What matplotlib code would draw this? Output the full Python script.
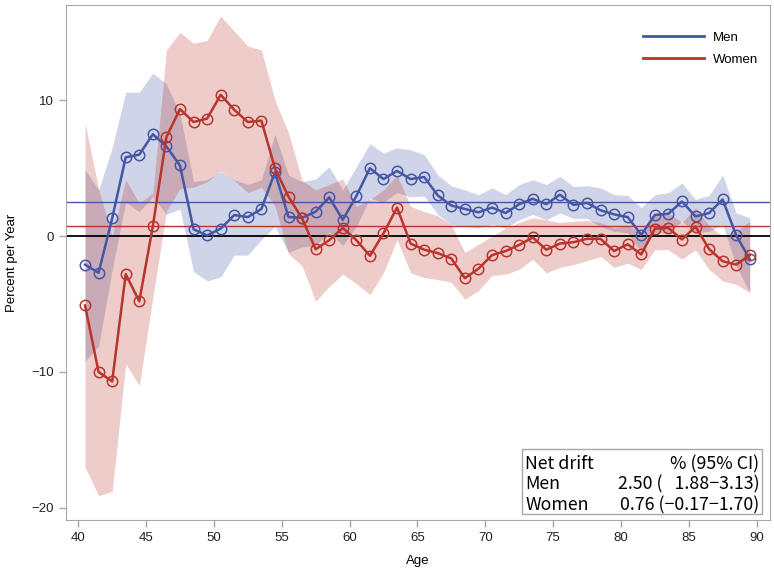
import numpy as np
import matplotlib
matplotlib.use("Agg")
import matplotlib.pyplot as plt
from matplotlib.lines import Line2D
from matplotlib.patches import Rectangle

# age groups (mid points)
ages = np.arange(40.5, 90.0, 1.0)

men = [-2.1, -2.7, 1.3, 5.8, 6.0, 7.5, 6.6, 5.2, 0.5, 0.05,
       0.55, 1.55, 1.4, 2.0, 4.7, 1.4, 1.35, 1.8, 2.85, 1.2,
       2.95, 5.0, 4.2, 4.8, 4.2, 4.35, 3.0, 2.25, 2.0, 1.75,
       2.1, 1.7, 2.35, 2.75, 2.35, 3.05, 2.3, 2.45, 1.9, 1.6,
       1.4, 0.1, 1.55, 1.65, 2.55, 1.45, 1.7, 2.7, 0.05, -1.7]
men_hi = [4.9, 3.4, 6.5, 10.6, 10.6, 12.0, 11.2, 9.0, 4.0, 4.15,
          4.75, 4.15, 3.8, 4.15, 7.5, 4.5, 4.0, 4.2, 5.1, 3.4,
          5.1, 6.8, 6.1, 6.5, 6.35, 6.0, 4.5, 3.7, 3.4, 3.05,
          3.55, 3.05, 3.8, 4.15, 3.8, 4.4, 3.65, 3.7, 3.55, 3.05,
          3.0, 2.1, 3.05, 3.2, 3.9, 2.7, 3.0, 4.5, 1.7, 1.35]
men_lo = [-9.2, -8.1, -2.5, 2.5, 1.8, 2.9, 1.6, 2.0, -2.6, -3.3,
          -3.0, -1.4, -1.4, -0.25, 0.7, -1.2, -0.8, -0.7, 0.3, -0.7,
          0.7, 2.8, 2.5, 3.2, 2.9, 2.95, 1.6, 0.85, 0.7, 0.6,
          0.85, 0.6, 1.2, 1.6, 1.2, 1.7, 1.3, 1.3, 0.7, 0.35,
          0.25, -1.2, 0.25, 0.25, 1.1, 0.25, 0.35, 0.85, -2.2, -4.15]

women = [-5.1, -10.0, -10.7, -2.8, -4.8, 0.73, 7.3, 9.35, 8.4, 8.65,
         10.4, 9.3, 8.4, 8.5, 5.0, 2.9, 1.3, -0.97, -0.3, 0.6,
         -0.3, -1.45, 0.2, 2.1, -0.55, -1.0, -1.25, -1.65, -3.1, -2.4,
         -1.4, -1.1, -0.65, -0.1, -1.0, -0.55, -0.45, -0.2, -0.2, -1.1,
         -0.6, -1.35, 0.55, 0.6, -0.25, 0.7, -0.95, -1.85, -2.1, -1.4]
women_hi = [8.3, 3.5, 0.0, 4.15, 2.4, 3.2, 13.7, 15.0, 14.2, 14.4,
            16.2, 15.1, 14.0, 13.7, 10.0, 7.6, 4.1, 3.4, 3.8, 4.2,
            2.2, 2.7, 3.4, 4.5, 2.2, 1.8, 1.5, 0.85, -1.2, -0.6,
            0.0, 0.6, 1.0, 1.35, 1.2, 1.0, 1.1, 1.15, 1.0, 0.6,
            0.75, 0.25, 1.7, 1.7, 1.0, 2.1, 0.75, 0.0, 0.35, 1.1]
women_lo = [-17.0, -19.1, -18.8, -9.4, -11.0, -4.5, 1.8, 3.5, 3.6, 4.0,
            4.8, 4.1, 3.2, 3.6, 2.2, -1.3, -2.2, -4.8, -3.7, -2.8,
            -3.5, -4.3, -2.7, -0.25, -2.7, -3.05, -3.2, -3.4, -4.65, -4.0,
            -2.9, -2.8, -2.45, -1.7, -2.7, -2.3, -2.1, -1.8, -1.5, -2.3,
            -2.0, -2.45, -1.0, -1.0, -1.7, -1.0, -2.45, -3.3, -3.55, -4.15]

net_drift = {"Men": 2.50, "Women": 0.76}
table_rows = [("Net drift", "% (95% CI)"),
              ("Men", "2.50 (   1.88\u22123.13)"),
              ("Women", "0.76 (\u22120.17\u22121.70)")]

blue = "#4456a4"
red = "#b8342c"

fig = plt.figure(figsize=(7.74, 5.76), dpi=100)
ax = fig.add_axes([0.0853, 0.0972, 0.9097, 0.8938])

ax.fill_between(ages, men_lo, men_hi, color=blue, alpha=0.25, linewidth=0)
ax.fill_between(ages, women_lo, women_hi, color=red, alpha=0.25, linewidth=0)

ax.axhline(0, color="black", lw=1.3, zorder=2)
ax.axhline(net_drift["Men"], color=blue, lw=1.0, zorder=2)
ax.axhline(net_drift["Women"], color=red, lw=1.0, zorder=2)

ax.plot(ages, men, color=blue, lw=1.8, marker="o", ms=7.5, mfc="none",
        mew=1.1, zorder=3)
ax.plot(ages, women, color=red, lw=1.8, marker="o", ms=7.5, mfc="none",
        mew=1.1, zorder=3)

ax.set_xlim(39.1, 91.0)
ax.set_ylim(-20.9, 17.0)
ax.set_xticks(range(40, 91, 5))
ax.set_yticks([-20, -10, 0, 10])
ax.set_yticklabels(["\u221220", "\u221210", "0", "10"])

for s in ax.spines.values():
    s.set_color("#a8a8a8")
ax.tick_params(colors="#a8a8a8", labelcolor="#222222", labelsize=9.5,
               length=5, width=1)
for lab in ax.get_xticklabels() + ax.get_yticklabels():
    lab.set_family("Liberation Sans")

ax.set_xlabel("Age", fontsize=9.5, family="Liberation Sans", labelpad=8)
ax.set_ylabel("Percent per Year", fontsize=9.5, family="Liberation Sans",
              labelpad=10)

handles = [Line2D([], [], color=blue, lw=2), Line2D([], [], color=red, lw=2)]
ax.legend(handles, ["Men", "Women"], loc="upper right", frameon=False,
          handlelength=4.6, handletextpad=0.7, labelspacing=0.75,
          bbox_to_anchor=(1.0, 0.972),
          prop={"family": "Liberation Sans", "size": 9.5})

# net drift table
box = Rectangle((0.647, 0.011), 0.341, 0.127, transform=ax.transAxes,
                facecolor="white", edgecolor="#a8a8a8", lw=1, zorder=4)
ax.add_patch(box)
row_y = [0.109, 0.069, 0.029]
for (left, right), y in zip(table_rows, row_y):
    ax.text(0.652, y, left, transform=ax.transAxes, fontsize=12.8,
            family=["Noto Sans CJK JP", "DejaVu Sans"], va="center",
            ha="left", zorder=5)
    ax.text(0.985, y, right, transform=ax.transAxes, fontsize=12.8,
            family=["Noto Sans CJK JP", "DejaVu Sans"], va="center",
            ha="right", zorder=5)

fig.savefig("out.png", dpi=100)
